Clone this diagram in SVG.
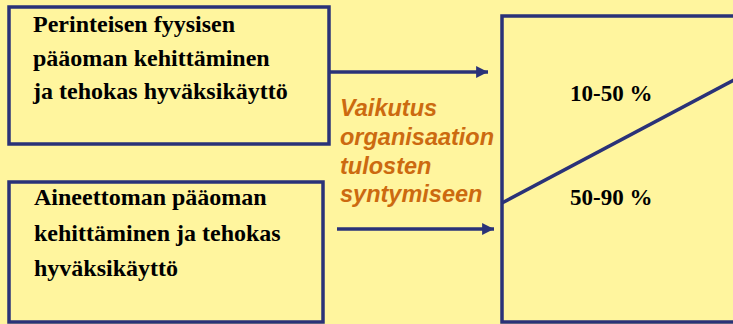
<svg xmlns="http://www.w3.org/2000/svg" width="733" height="324" viewBox="0 0 733 324">
<style>
.box{fill:none;stroke:#2a3278;stroke-width:3.5}
.t{font-family:"Liberation Serif","Times New Roman",serif;font-weight:bold;font-size:24px;fill:#000}
.p{font-family:"Liberation Serif","Times New Roman",serif;font-weight:bold;font-size:23px;fill:#000}
.o{font-family:"Liberation Sans",Arial,sans-serif;font-weight:bold;font-style:italic;font-size:23.5px;fill:#cc6a10}
.c{stroke:#2a3278;stroke-width:3.5;fill:none}
</style>
<defs>
<marker id="ah" viewBox="0 0 10 10" refX="10" refY="5" markerWidth="3.5" markerHeight="3.4" markerUnits="strokeWidth" orient="auto">
<path d="M0,0 L10,5 L0,10 Z" fill="#2a3278"/>
</marker>
</defs>
<rect width="733" height="324" fill="#fff59e"/>
<g id="node-physical">
<rect class="box" x="9" y="7" width="320" height="137"/>
<text class="t" x="33" y="32">Perinteisen fyysisen</text>
<text class="t" x="33" y="66">pääoman kehittäminen</text>
<text class="t" x="33" y="99">ja tehokas hyväksikäyttö</text>
</g>
<g id="node-intangible">
<rect class="box" x="9" y="182" width="314" height="140"/>
<text class="t" x="34" y="205">Aineettoman pääoman</text>
<text class="t" x="34" y="241">kehittäminen ja tehokas</text>
<text class="t" x="34" y="276">hyväksikäyttö</text>
</g>
<g id="node-results">
<rect class="box" x="502" y="16" width="250" height="306"/>
<line class="c" x1="502" y1="203" x2="736" y2="79"/>
<text class="p" x="570" y="101">10-50 %</text>
<text class="p" x="570" y="205">50-90 %</text>
</g>
<g id="label">
<text class="o" x="340" y="116">Vaikutus</text>
<text class="o" x="340" y="145">organisaation</text>
<text class="o" x="340" y="174">tulosten</text>
<text class="o" x="340" y="202">syntymiseen</text>
</g>
<g id="connectors">
<line class="c" x1="330" y1="72" x2="488" y2="72" marker-end="url(#ah)"/>
<line class="c" x1="337" y1="229" x2="494" y2="229" marker-end="url(#ah)"/>
</g>
</svg>
